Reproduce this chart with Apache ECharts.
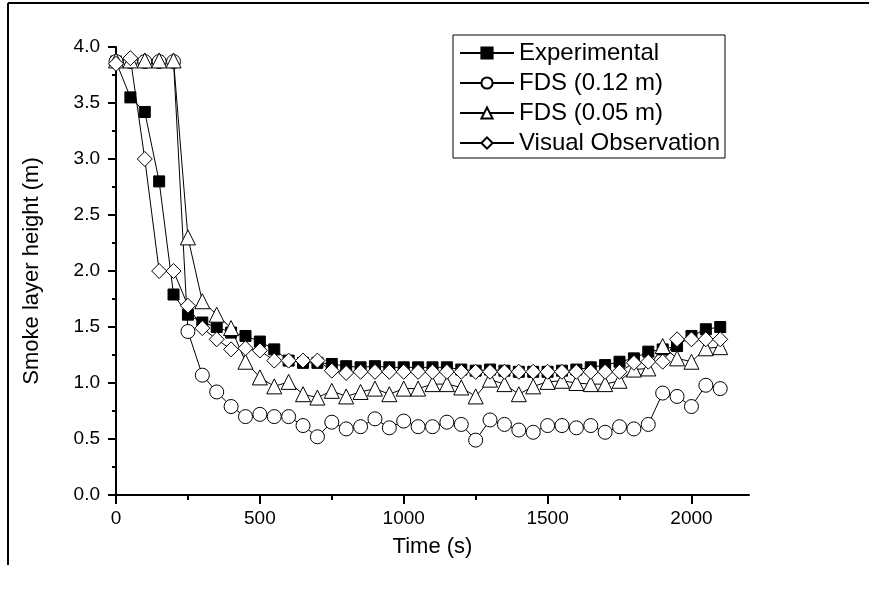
<!DOCTYPE html>
<html>
<head>
    <meta charset="UTF-8"/>
    <title>Smoke layer height</title>
    <script src="https://cdn.jsdelivr.net/npm/echarts@6/dist/echarts.min.js"></script>
    <style>
        html, body { margin: 0; padding: 0; background: #fff; }
        #chart { width: 869px; height: 608px; }
    </style>
</head>
<body>
<div id="chart"></div>
<script>
    // time axis (s), one point every 50 s
    var times = [0, 50, 100, 150, 200, 250, 300, 350, 400, 450, 500, 550, 600, 650, 700, 750, 800, 850, 900, 950,
        1000, 1050, 1100, 1150, 1200, 1250, 1300, 1350, 1400, 1450, 1500, 1550, 1600, 1650, 1700, 1750, 1800, 1850,
        1900, 1950, 2000, 2050, 2100];

    var experimental = [3.87, 3.55, 3.42, 2.80, 1.79, 1.61, 1.54, 1.50, 1.45, 1.42, 1.37, 1.30, 1.20, 1.18, 1.18, 1.17,
        1.15, 1.14, 1.15, 1.14, 1.14, 1.14, 1.14, 1.14, 1.12, 1.11, 1.12, 1.11, 1.10, 1.10, 1.10, 1.11, 1.12, 1.14,
        1.16, 1.19, 1.22, 1.28, 1.30, 1.33, 1.42, 1.48, 1.50];

    var fds012 = [3.87, 3.87, 3.87, 3.87, 3.87, 1.46, 1.07, 0.92, 0.79, 0.70, 0.72, 0.70, 0.70, 0.62, 0.52, 0.65,
        0.59, 0.61, 0.68, 0.60, 0.66, 0.61, 0.61, 0.65, 0.63, 0.49, 0.67, 0.63, 0.58, 0.56, 0.62, 0.62, 0.60, 0.62,
        0.56, 0.61, 0.59, 0.63, 0.91, 0.88, 0.79, 0.98, 0.95];

    var fds005 = [3.88, 3.88, 3.88, 3.88, 3.88, 2.30, 1.73, 1.61, 1.49, 1.19, 1.05, 0.97, 1.01, 0.90, 0.87, 0.93,
        0.88, 0.92, 0.95, 0.90, 0.95, 0.95, 0.99, 0.99, 0.96, 0.88, 1.03, 0.99, 0.90, 0.97, 1.01, 1.02, 1.00, 0.99,
        0.99, 1.02, 1.12, 1.13, 1.33, 1.22, 1.19, 1.31, 1.32];

    var visual = [3.85, 3.90, 3.00, 2.00, 2.00, 1.69, 1.49, 1.39, 1.30, 1.31, 1.29, 1.20, 1.20, 1.20, 1.20, 1.11,
        1.09, 1.10, 1.10, 1.10, 1.10, 1.10, 1.10, 1.10, 1.10, 1.10, 1.10, 1.10, 1.10, 1.10, 1.10, 1.10, 1.10, 1.10,
        1.10, 1.10, 1.18, 1.19, 1.19, 1.39, 1.39, 1.39, 1.39];

    var xMajorTicks = [0, 500, 1000, 1500, 2000];
    var xMinorTicks = [250, 750, 1250, 1750];

    function pairs(ys) {
        return times.map(function (t, i) {
            return [t, ys[i]];
        });
    }

    var font = 'Liberation Sans, Arial, sans-serif';

    function makeSeries(name, ys, symbol, size, fill) {
        return {
            name: name,
            type: 'line',
            data: pairs(ys),
            symbol: symbol,
            symbolSize: size,
            showAllSymbol: true,
            lineStyle: {color: '#000', width: 1},
            itemStyle: {color: fill, borderColor: '#000', borderWidth: 1}
        };
    }

    var myChart = echarts.init(document.getElementById('chart'));

    var option = {
        animation: false,
        backgroundColor: '#fff',
        graphic: [
            {type: 'line', shape: {x1: 8, y1: 3, x2: 869, y2: 3}, style: {stroke: '#000', lineWidth: 2}},
            {type: 'line', shape: {x1: 8, y1: 3, x2: 8, y2: 565}, style: {stroke: '#000', lineWidth: 2}}
        ],
        legend: {
            orient: 'vertical',
            left: 453,
            top: 35,
            padding: [6, 5, 3, 6],
            itemGap: 6,
            itemWidth: 54,
            itemHeight: 14,
            borderColor: '#000',
            borderWidth: 1,
            textStyle: {color: '#000', fontFamily: font, fontSize: 24},
            data: ['Experimental', 'FDS (0.12 m)', 'FDS (0.05 m)', 'Visual Observation']
        },
        grid: {left: 116, right: 120, top: 47, bottom: 113},
        xAxis: [
            {
                type: 'value',
                min: 0,
                max: 2200,
                interval: 500,
                name: 'Time (s)',
                nameLocation: 'middle',
                nameGap: 41,
                nameTextStyle: {color: '#000', fontFamily: font, fontSize: 22},
                axisLine: {lineStyle: {color: '#000', width: 2}},
                axisTick: {customValues: xMajorTicks, length: 9, lineStyle: {color: '#000', width: 2}},
                axisLabel: {
                    customValues: xMajorTicks, margin: 14, color: '#000', fontFamily: font, fontSize: 19,
                    formatter: function (v) {
                        return String(v);
                    }
                },
                splitLine: {show: false}
            },
            {
                type: 'value',
                min: 0,
                max: 2200,
                position: 'bottom',
                axisLine: {show: false},
                axisTick: {customValues: xMinorTicks, length: 5, lineStyle: {color: '#000', width: 2}},
                axisLabel: {show: false},
                splitLine: {show: false}
            }
        ],
        yAxis: {
            type: 'value',
            min: 0,
            max: 4,
            interval: 0.5,
            name: 'Smoke layer height (m)',
            nameLocation: 'middle',
            nameGap: 73,
            nameTextStyle: {color: '#000', fontFamily: font, fontSize: 22},
            axisLine: {show: true, lineStyle: {color: '#000', width: 2}},
            axisTick: {show: true, length: 8, lineStyle: {color: '#000', width: 2}},
            minorTick: {show: true, splitNumber: 2, length: 4, lineStyle: {color: '#000', width: 2}},
            axisLabel: {
                margin: 16, color: '#000', fontFamily: font, fontSize: 19,
                formatter: function (v) {
                    return v.toFixed(1);
                }
            },
            splitLine: {show: false}
        },
        series: [
            makeSeries('Experimental', experimental, 'rect', 11, '#000'),
            makeSeries('FDS (0.12 m)', fds012, 'circle', 14, '#fff'),
            makeSeries('FDS (0.05 m)', fds005, 'triangle', 15, '#fff'),
            makeSeries('Visual Observation', visual, 'diamond', 15, '#fff')
        ]
    };

    myChart.setOption(option);
</script>
</body>
</html>
